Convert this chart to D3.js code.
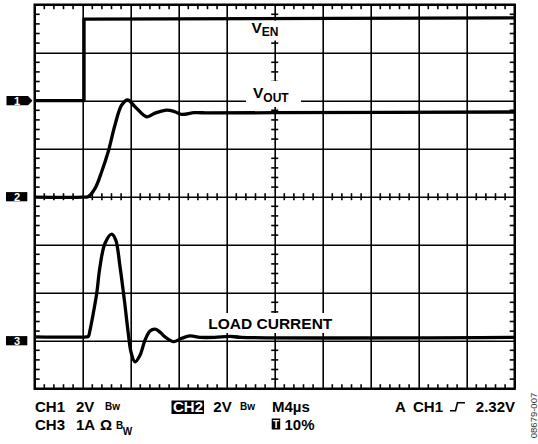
<!DOCTYPE html>
<html><head><meta charset="utf-8">
<script src="https://cdn.jsdelivr.net/npm/d3@7"></script>
<style>
html,body{margin:0;padding:0;background:#fff;}
svg{display:block;font-family:"Liberation Sans",Arial,Helvetica,sans-serif;font-weight:bold;}
</style></head><body>
<svg id="c" width="538" height="444"></svg>
<script>
// ---- data (time in µs, 4 µs/div, trigger at 10%) ----
const venTime  = [-4, 0.11, 0.11, 36];
const venVolts = [0, 0, 3.40, 3.45];

const voutTime  = [-4, 0.0, 0.44, 1.03, 1.58, 2.13, 2.69, 3.25, 3.75, 4.36, 5.33, 6.03, 7.0, 7.69, 8.25, 9.3, 10.5, 16, 36];
const voutVolts = [-0.02, -0.02, 0.0, 0.35, 1.04, 1.88, 2.99, 3.82, 4.03, 3.75, 3.33, 3.48, 3.61, 3.54, 3.43, 3.50, 3.49, 3.50, 3.53];

const iloadTime = [-4, 0.3, 0.47, 0.61, 0.88, 1.17, 1.44, 1.86, 2.42, 2.75, 3.11, 3.47, 3.8, 4.03, 4.36, 4.78, 5.19, 5.61, 6.03, 6.44, 6.86, 7.55, 8.25, 8.94, 9.78, 11.0, 12.28, 13.2, 36];
const iloadAmps = [0.08, 0.08, 0.09, 0.22, 0.57, 0.99, 1.54, 2.03, 2.22, 2.10, 1.54, 0.85, 0.15, -0.24, -0.44, -0.30, 0.01, 0.20, 0.24, 0.18, 0.08, -0.02, 0.05, 0.10, 0.07, 0.07, 0.09, 0.07, 0.07];

// scope channel settings
const channelIds     = ["1", "2", "3"];
const channelOffsets = [2, 0, -3];   // ground marker, in divisions
const channelPerDiv  = [2, 2, 1];    // V/div, V/div, A/div

// grid ticks
const timeGrid = [-4, 0, 4, 8, 12, 16, 20, 24, 28, 32, 36];
const divGrid  = [-4, -3, -2, -1, 0, 1, 2, 3, 4];

// texts
const traceLabels = ["V", "EN", "V", "OUT", "LOAD CURRENT"];
const settingsRow1 = ["CH1", "2V", "Bw", "CH2", "2V", "Bw", "M4µs", "A", "CH1", "2.32V"];
const settingsRow2 = ["CH3", "1A", "Ω", "B", "W", "T", "10%"];
const figureId = "08679-007";

// ---- drawing ----
const svg = d3.select("#c");
svg.append("rect").attr("width", 538).attr("height", 444).attr("fill", "#fff");

const L = 34.7, R = 514.7, T = 4.7, B = 388.7;
const x = d3.scaleLinear().domain([-4, 36]).range([L, R]);
const yd = d3.scaleLinear().domain([-4, 4]).range([B, T]);
const chY = (i, v) => yd(channelOffsets[i] + v / channelPerDiv[i]);

const g = svg.append("g");

// grid lines via axes
g.append("g").attr("transform", `translate(0,${T})`)
  .call(d3.axisTop(x).tickValues(timeGrid).tickSize(-(B - T)).tickFormat(""))
  .call(s => s.select(".domain").remove())
  .call(s => s.selectAll("line").attr("stroke", "#000").attr("stroke-width", 1.6));
g.append("g").attr("transform", `translate(${L},0)`)
  .call(d3.axisLeft(yd).tickValues(divGrid).tickSize(-(R - L)).tickFormat(""))
  .call(s => s.select(".domain").remove())
  .call(s => s.selectAll("line").attr("stroke", "#000").attr("stroke-width", 1.6));

// minor ticks
const minorT = d3.range(-4, 36.001, 0.8).filter(t => Math.abs(((t + 4) / 4) - Math.round((t + 4) / 4)) > 1e-6);
const minorD = d3.range(-4, 4.001, 0.2).filter(d => Math.abs(d - Math.round(d)) > 1e-6);
const tk = svg.append("g").attr("class", "minor");
const tline = (x1, y1, x2, y2) => tk.append("line").attr("x1", x1).attr("y1", y1).attr("x2", x2).attr("y2", y2)
  .attr("stroke", "#000").attr("stroke-width", 1.6);
minorT.forEach(t => {
  const px = x(t);
  tline(px, T, px, T + 4.5);
  tline(px, B, px, B - 4.5);
  tline(px, yd(0) - 3.5, px, yd(0) + 3.5);
});
minorD.forEach(d => {
  const py = yd(d);
  tline(L, py, L + 5, py);
  tline(R, py, R - 5, py);
  tline(x(16) - 3.5, py, x(16) + 3.5, py);
});

// border
g.append("rect").attr("x", L).attr("y", T).attr("width", R - L).attr("height", B - T)
  .attr("fill", "none").attr("stroke", "#000").attr("stroke-width", 2.4);

// white label backgrounds
const bg = [[247, 20.5, 46, 20], [246, 81, 55, 26], [204, 313, 134, 20]];
bg.forEach(b => svg.append("rect").attr("x", b[0]).attr("y", b[1]).attr("width", b[2]).attr("height", b[3]).attr("fill", "#fff"));

const g2 = svg.append("g");
// traces
const curve = d3.curveCatmullRom.alpha(0.5);
const tr = (ts, vs, ch, c) => {
  const line = d3.line().x((d, i) => x(ts[i])).y((d, i) => chY(ch, vs[i])).curve(c);
  g2.append("path").attr("d", line(vs)).attr("fill", "none").attr("stroke", "#000")
    .attr("stroke-width", 3.3).attr("stroke-linejoin", "round");
};
tr(venTime, venVolts, 0, d3.curveLinear);
tr(voutTime, voutVolts, 1, curve);
tr(iloadTime, iloadAmps, 2, curve);

// trace labels
const t1 = g2.append("text").attr("x", 251.5).attr("y", 32.7).attr("font-size", 15.5);
t1.append("tspan").text(traceLabels[0]);
t1.append("tspan").attr("font-size", 12).attr("dy", 3.5).text(traceLabels[1]);
const t2 = g2.append("text").attr("x", 253).attr("y", 98.3).attr("font-size", 15.5);
t2.append("tspan").text(traceLabels[2]);
t2.append("tspan").attr("font-size", 12).attr("dy", 4).text(traceLabels[3]);
g2.append("text").attr("x", 208.3).attr("y", 329).attr("font-size", 15.5).text(traceLabels[4]);

// channel markers
channelIds.forEach((id, i) => {
  const cy = yd(channelOffsets[i]);
  const p = i === 0
    ? `M6.5,${cy - 4.6}H28L32.5,${cy}L28,${cy + 4.6}H6.5Z`
    : `M6,${cy - 4.6}H27.3V${cy + 4.6}H6Z`;
  g2.append("path").attr("d", p).attr("fill", "#000");
  g2.append("text").attr("x", 17).attr("y", cy + 4).attr("text-anchor", "middle")
    .attr("font-size", 11).attr("fill", "#fff").text(id);
});

// settings text
const r1 = 411.5, r2 = 429.5, fs = 15;
const txt = (s, px, py, size, extra) => {
  const t = g2.append("text").attr("x", px).attr("y", py).attr("font-size", size).text(s);
  if (extra) extra(t);
  return t;
};
txt(settingsRow1[0], 35, r1, fs);
txt(settingsRow1[1], 76, r1, fs);
txt(settingsRow1[2], 105, 409.5, 10);
g2.append("rect").attr("x", 171.5).attr("y", 400.5).attr("width", 32.5).attr("height", 13.5).attr("fill", "#000");
txt(settingsRow1[3], 173, r1, fs, t => t.attr("fill", "#fff"));
txt(settingsRow1[4], 213.3, r1, fs);
txt(settingsRow1[5], 240, 409.5, 10);
txt(settingsRow1[6], 272, r1, fs);
txt(settingsRow1[7], 395, r1, fs);
txt(settingsRow1[8], 413, r1, fs);
g2.append("path").attr("d", "M450,410.7H455.5L457.5,402.7H465").attr("fill", "none").attr("stroke", "#000").attr("stroke-width", 1.6);
txt(settingsRow1[9], 515, r1, fs, t => t.attr("text-anchor", "end"));

txt(settingsRow2[0], 35, r2, fs);
txt(settingsRow2[1], 76, r2, fs);
txt(settingsRow2[2], 100, r2, fs);
txt(settingsRow2[3], 116, 429, 10);
txt(settingsRow2[4], 122.7, 435, 10);
g2.append("rect").attr("x", 271.7).attr("y", 418.5).attr("width", 8.5).attr("height", 11).attr("fill", "#000");
txt(settingsRow2[5], 276, 428, 10, t => t.attr("fill", "#fff").attr("text-anchor", "middle"));
txt(settingsRow2[6], 284.5, r2, fs);

g2.append("text").attr("transform", "translate(537,415.5) rotate(-90)")
  .attr("text-anchor", "middle").attr("font-size", 9.5).attr("font-weight", "normal")
  .attr("fill", "#333").text(figureId);
</script>
</body></html>
